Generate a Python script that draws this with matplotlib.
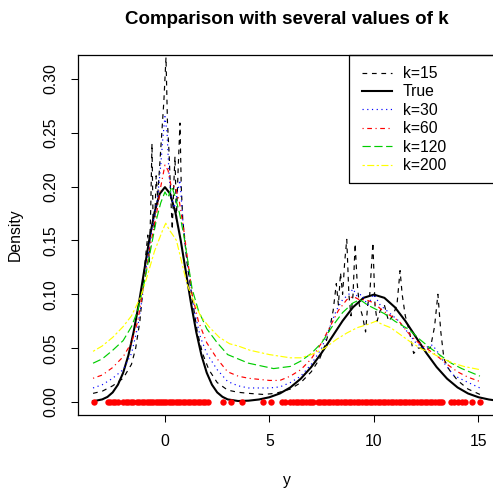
import matplotlib
matplotlib.use("Agg")
import matplotlib.pyplot as plt
from matplotlib.patches import Rectangle

plt.rcParams['font.family'] = ['Liberation Sans', 'DejaVu Sans']

# k nearest neighbour density estimates
x_k15 = [-3.44, -3.0, -2.5, -2.0, -1.6, -1.4, -1.2, -1.1, -1.0, -0.9, -0.82, -0.75, -0.68, -0.62,
         -0.57, -0.5, -0.42, -0.35, -0.25, -0.15, -0.05, 0.05, 0.12, 0.2, 0.28, 0.35, 0.42, 0.48,
         0.55, 0.62, 0.68, 0.72, 0.78, 0.85, 0.95, 1.05, 1.2, 1.35, 1.55, 1.8, 2.1, 2.5, 3.0, 3.5,
         4.0, 4.7, 5.3, 6.0, 6.5, 7.0, 7.4, 7.7, 7.9, 8.05, 8.2, 8.3, 8.4, 8.5, 8.6, 8.7, 8.8, 8.9,
         9.0, 9.1, 9.2, 9.3, 9.45, 9.6, 9.7, 9.8, 9.95, 10.05, 10.15, 10.3, 10.5, 10.7, 10.9, 11.1,
         11.25, 11.35, 11.5, 11.7, 11.9, 12.1, 12.4, 12.7, 12.9, 13.06, 13.2, 13.35, 13.6, 14.0,
         14.5, 15.07]
y_k15 = [0.008, 0.010, 0.015, 0.022, 0.035, 0.05, 0.075, 0.095, 0.12, 0.14, 0.155, 0.13, 0.18, 0.24,
         0.17, 0.16, 0.21, 0.19, 0.22, 0.25, 0.28, 0.32, 0.26, 0.23, 0.19, 0.16, 0.20, 0.228,
         0.17, 0.21, 0.24, 0.259, 0.20, 0.17, 0.15, 0.13, 0.11, 0.09, 0.065, 0.045, 0.03, 0.018, 0.011, 0.009,
         0.008, 0.007, 0.008, 0.012, 0.018, 0.028, 0.04, 0.055, 0.07, 0.085, 0.11, 0.09, 0.12, 0.10, 0.13, 0.151, 0.10, 0.08,
         0.10, 0.147, 0.11, 0.09, 0.08, 0.065, 0.09, 0.10, 0.148, 0.09, 0.075, 0.085, 0.09, 0.075, 0.08, 0.09,
         0.122, 0.10, 0.08, 0.065, 0.045, 0.05, 0.05, 0.05, 0.07, 0.10, 0.065, 0.04, 0.03, 0.02,
         0.012, 0.007]

x_k30 = [-3.44, -3.0, -2.5, -2.0, -1.6, -1.3, -1.1, -0.9, -0.7, -0.5, -0.35, -0.2, -0.1, 0.0, 0.1,
         0.2, 0.3, 0.45, 0.6, 0.72, 0.85, 1.0, 1.2, 1.4, 1.7, 2.0, 2.5, 3.0, 3.5, 4.0, 5.0, 5.5, 6.0,
         6.5, 7.0, 7.5, 7.9, 8.2, 8.5, 8.8, 9.0, 9.2, 9.4, 9.7, 10.0, 10.3, 10.6, 10.9, 11.2, 11.6,
         12.0, 12.4, 12.8, 13.1, 13.4, 13.8, 14.3, 15.07]
y_k30 = [0.013, 0.016, 0.022, 0.030, 0.045, 0.07, 0.095, 0.125, 0.15, 0.175, 0.19, 0.22, 0.245, 0.265, 0.25,
         0.21, 0.19, 0.18, 0.195, 0.206, 0.17, 0.14, 0.11, 0.085, 0.06, 0.045, 0.03, 0.019, 0.015, 0.013, 0.013, 0.014, 0.018,
         0.024, 0.035, 0.05, 0.07, 0.085, 0.095, 0.10, 0.105, 0.098, 0.10, 0.09, 0.10, 0.09, 0.085, 0.08, 0.075, 0.065,
         0.055, 0.05, 0.053, 0.045, 0.035, 0.025, 0.02, 0.013]

x_k60 = [-3.44, -3.0, -2.5, -2.0, -1.6, -1.3, -1.0, -0.7, -0.4, -0.2, 0.0, 0.15, 0.3, 0.5, 0.7, 0.9,
         1.1, 1.3, 1.6, 2.0, 2.5, 3.0, 3.5, 4.0, 5.0, 5.5, 6.0, 6.5, 7.0, 7.5, 7.9, 8.3, 8.7, 9.0,
         9.3, 9.6, 10.0, 10.4, 10.8, 11.2, 11.6, 12.0, 12.5, 13.0, 13.5, 14.0, 14.5, 15.07]
y_k60 = [0.022, 0.025, 0.032, 0.042, 0.055, 0.075, 0.11, 0.145, 0.175, 0.20, 0.22, 0.215, 0.20, 0.20, 0.185, 0.16,
         0.13, 0.10, 0.075, 0.055, 0.04, 0.028, 0.024, 0.022, 0.020, 0.020, 0.024, 0.030, 0.040, 0.055, 0.07, 0.085, 0.095, 0.098,
         0.095, 0.095, 0.092, 0.085, 0.08, 0.075, 0.065, 0.057, 0.05, 0.043, 0.035, 0.028, 0.023, 0.019]

x_k120 = [-3.44, -3.0, -2.5, -2.0, -1.6, -1.3, -1.0, -0.7, -0.4, -0.2, 0.0, 0.15, 0.33, 0.5, 0.7,
          0.9, 1.1, 1.3, 1.6, 2.0, 2.5, 3.0, 3.5, 4.0, 5.2, 6.0, 6.5, 7.0, 7.5, 8.0, 8.5, 9.0,
          9.33, 9.7, 10.0, 10.5, 11.0, 11.7, 12.2, 12.7, 13.2, 13.7, 14.2, 14.7, 15.07]
y_k120 = [0.036, 0.040, 0.048, 0.057, 0.070, 0.085, 0.11, 0.14, 0.17, 0.185, 0.195, 0.19, 0.20, 0.19, 0.175,
          0.155, 0.13, 0.105, 0.085, 0.068, 0.055, 0.044, 0.040, 0.036, 0.031, 0.033, 0.038, 0.045, 0.055, 0.07, 0.083, 0.092,
          0.095, 0.09, 0.087, 0.082, 0.075, 0.067, 0.058, 0.05, 0.043, 0.036, 0.031, 0.027, 0.024]

x_k200 = [-3.44, -3.0, -2.5, -2.0, -1.6, -1.15, -0.8, -0.5, -0.3, -0.1, 0.04, 0.2, 0.38, 0.55, 0.8,
          1.05, 1.34, 1.7, 2.1, 2.6, 3.1, 3.5, 4.07, 5.0, 6.0, 6.5, 7.0, 7.65, 8.2, 8.7, 9.2, 9.7,
          10.1, 10.4, 10.8, 11.3, 11.8, 12.3, 12.8, 13.3, 13.8, 14.3, 15.07]
y_k200 = [0.047, 0.052, 0.060, 0.070, 0.080, 0.098, 0.12, 0.14, 0.15, 0.16, 0.166, 0.16, 0.155, 0.15, 0.13,
          0.11, 0.095, 0.08, 0.07, 0.06, 0.054, 0.052, 0.048, 0.044, 0.041, 0.041, 0.044, 0.05, 0.058, 0.064, 0.069, 0.072,
          0.075, 0.072, 0.069, 0.062, 0.055, 0.049, 0.045, 0.04, 0.036, 0.033, 0.030]

# true mixture density
x_true = [-3.44, -3.0, -2.75, -2.5, -2.25, -2.0, -1.75, -1.5, -1.25, -1.0, -0.75, -0.5, -0.25, 0.0,
          0.25, 0.5, 0.75, 1.0, 1.25, 1.5, 1.75, 2.0, 2.25, 2.5, 2.75, 3.0, 3.5, 4.0, 4.5, 5.0, 5.5,
          6.0, 6.5, 7.0, 7.5, 8.0, 8.5, 9.0, 9.5, 10.0, 10.5, 11.0, 11.5, 12.0, 12.5, 13.0, 13.5,
          14.0, 14.5, 15.0, 15.5, 15.9]
y_true = [0.0006, 0.0024, 0.0047, 0.0089, 0.0160, 0.0271, 0.0432, 0.0649, 0.0913, 0.1210, 0.1506, 0.1760, 0.1933, 0.1995,
          0.1933, 0.1760, 0.1506, 0.1210, 0.0913, 0.0648, 0.0431, 0.0271, 0.0160, 0.0089, 0.0048, 0.0024, 0.0009, 0.0012, 0.0023, 0.0044, 0.0079,
          0.0135, 0.0216, 0.0324, 0.0457, 0.0605, 0.0753, 0.0880, 0.0967, 0.0997, 0.0967, 0.0880, 0.0753, 0.0605, 0.0457, 0.0324, 0.0216,
          0.0135, 0.0079, 0.0044, 0.0023, 0.0012]

# the sample itself, drawn on y = 0
sample = [-3.40, -2.73, -2.62, -2.50, -2.38, -2.25, -2.00, -1.88, -1.75, -1.62, -1.53, -1.34, -1.22,
          -1.10, -0.98, -0.88, -0.77, -0.66, -0.55, -0.45, -0.34, -0.24, -0.13, -0.03, 0.07, 0.18,
          0.29, 0.40, 0.51, 0.62, 0.74, 0.85, 0.96, 1.08, 1.20, 1.33, 1.45, 1.58, 1.70, 1.82, 1.94,
          2.06, 2.78, 3.16, 3.70, 4.70, 5.07, 5.60, 5.75, 6.00, 6.12, 6.25, 6.38, 6.50, 6.62, 6.75,
          6.88, 7.00, 7.10, 7.30, 7.42, 7.55, 7.68, 7.80, 7.92, 8.05, 8.18, 8.30, 8.42, 8.55, 8.68,
          8.80, 8.92, 9.05, 9.18, 9.30, 9.42, 9.55, 9.68, 9.80, 9.92, 10.05, 10.18, 10.30, 10.42,
          10.55, 10.68, 10.80, 10.92, 11.05, 11.18, 11.30, 11.42, 11.55, 11.68, 11.80, 11.92, 12.05,
          12.18, 12.30, 12.42, 12.55, 12.68, 12.80, 12.92, 13.05, 13.18, 13.28, 13.70, 13.85, 14.00,
          14.20, 14.35, 14.70, 15.07]

labels = ["k=15", "True", "k=30", "k=60", "k=120", "k=200"]
x_ticks = [0, 5, 10, 15]
y_ticks = [0.00, 0.05, 0.10, 0.15, 0.20, 0.25, 0.30]


def main():
    fig = plt.figure(figsize=(4.93, 4.90), dpi=100)
    ax = fig.add_axes([78 / 493, 1 - 415 / 490, 418 / 493, 360 / 490])

    lw = 0.85
    ax.plot(x_k15, y_k15, color='black', lw=lw, ls=(0, (4, 4)), label=labels[0])
    ax.plot(x_true, y_true, color='black', lw=1.5, ls='-', label=labels[1])
    ax.plot(x_k30, y_k30, color='#0000FF', lw=lw, ls=(0, (1, 3)), label=labels[2])
    ax.plot(x_k60, y_k60, color='#FF0000', lw=lw, ls=(0, (1, 3, 4, 3)), label=labels[3])
    ax.plot(x_k120, y_k120, color='#00CD00', lw=lw, ls=(0, (7, 3)), label=labels[4])
    ax.plot(x_k200, y_k200, color='#FFFF00', lw=lw, ls=(0, (2, 2, 6, 2)), label=labels[5])
    ax.plot(sample, [0] * len(sample), 'o', color='#FF0000', ms=4.6, mec='none')

    ax.set_xlim(-4.16, 15.84)
    ax.set_ylim(-0.0121, 0.3222)
    ax.set_xticks(x_ticks)
    ax.set_xticklabels([str(v) for v in x_ticks])
    ax.set_yticks(y_ticks)
    ax.set_yticklabels(["%.2f" % v for v in y_ticks], rotation=90, va='center')
    ax.tick_params(direction='out', length=5, width=0.75, labelsize=11.3, pad=9, colors='black')
    for s in ax.spines.values():
        s.set_linewidth(0.9)

    fig.text(287 / 493, 1 - 19 / 490, "Comparison with several values of k",
             ha='center', va='center', fontsize=13.5, fontweight='bold')
    fig.text(287 / 493, 1 - 480 / 490, "y", ha='center', va='center', fontsize=11.3)
    fig.text(15 / 493, 1 - 235 / 490, "Density", ha='center', va='center', rotation=90, fontsize=11.3)

    # legend box at top right, running off the right edge like the original
    box_x = (349 - 78) / 418
    box_y = (415 - 183) / 360
    ax.add_patch(Rectangle((box_x, box_y), 0.5, 1 - box_y, transform=ax.transAxes,
                           fill=False, lw=0.9, ec='black', clip_on=False))
    ax.legend(loc='upper left', bbox_to_anchor=((362 - 78) / 418, (415 - 66) / 360), frameon=False,
              borderpad=0, borderaxespad=0, handlelength=1.9, handletextpad=0.7, labelspacing=0.22,
              fontsize=11.3)

    fig.savefig("out.png", dpi=100)


if __name__ == "__main__":
    main()
